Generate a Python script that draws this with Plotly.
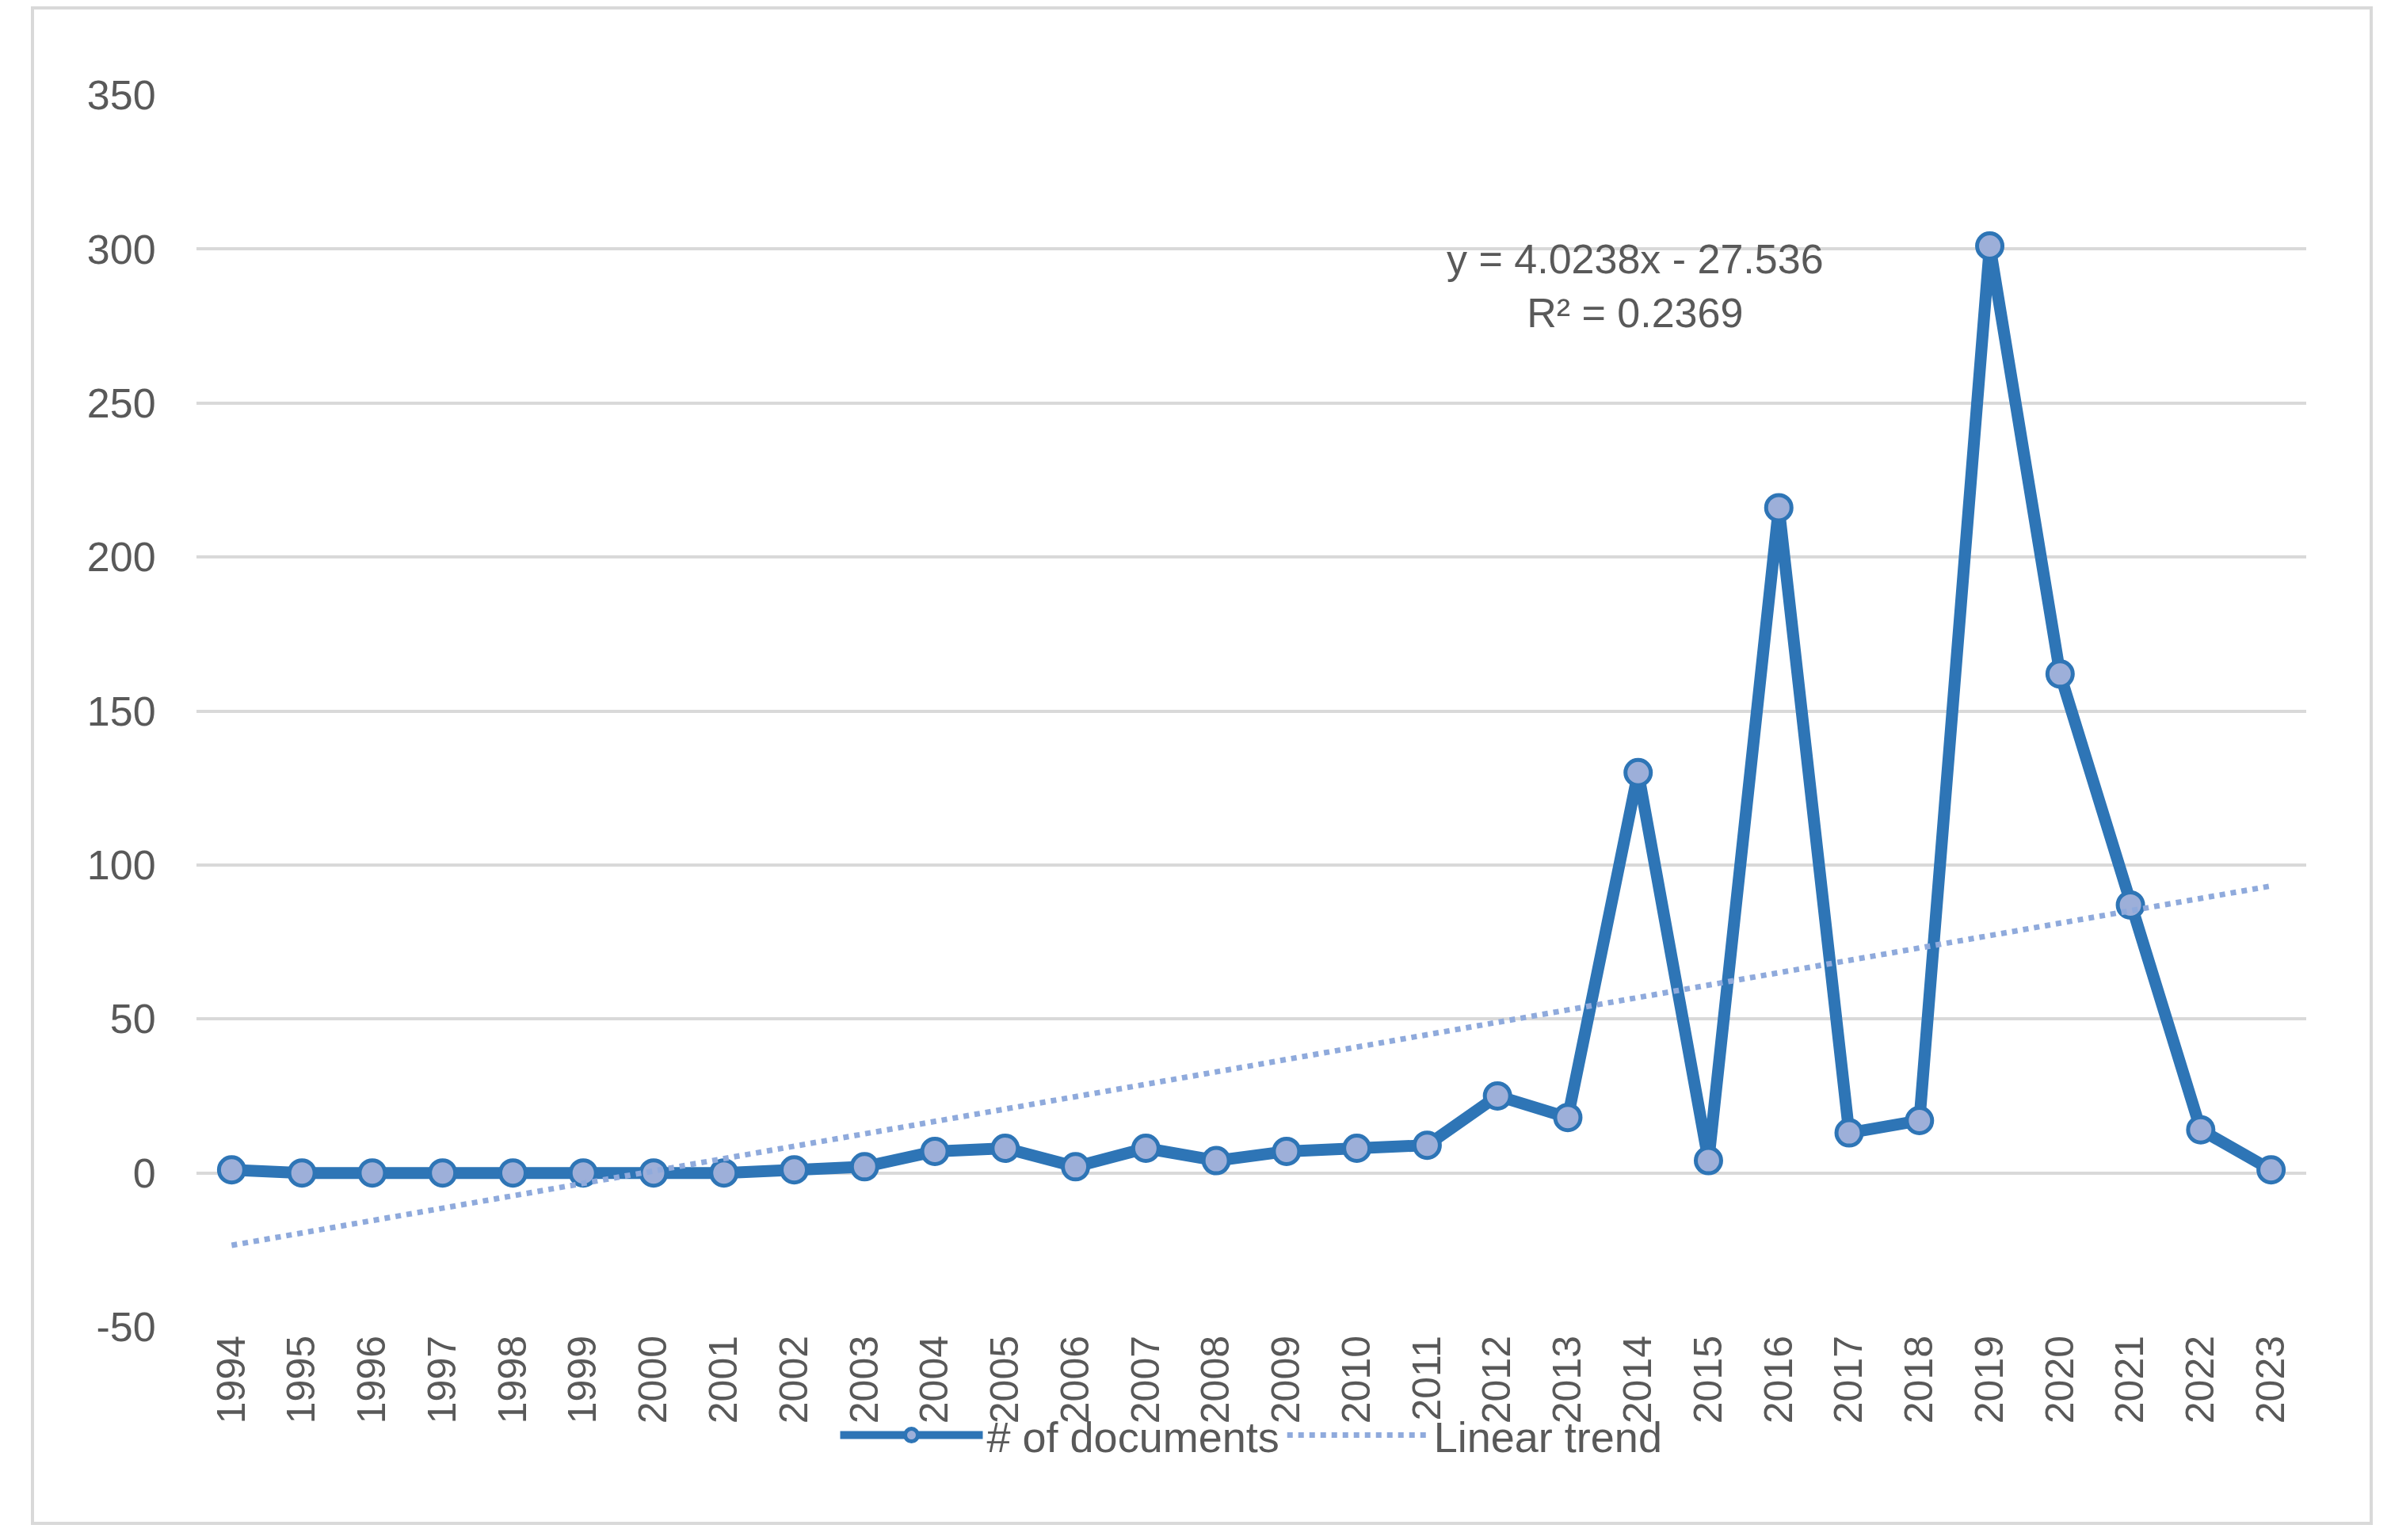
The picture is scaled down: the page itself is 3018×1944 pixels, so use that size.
import plotly.graph_objects as go

# data
years = [str(y) for y in range(1994, 2024)]
documents = [1, 0, 0, 0, 0, 0, 0, 0, 1, 2, 7, 8, 2, 8, 4, 7, 8, 9, 25, 18,
             130, 4, 216, 13, 17, 301, 162, 87, 14, 1]
TREND_SLOPE = 4.0238
TREND_INTERCEPT = -27.536
y_ticks = [-50, 0, 50, 100, 150, 200, 250, 300, 350]
y_tick_text = ["-50", "0", "50", "100", "150", "200", "250", "300", "350"]

trend = [TREND_SLOPE * (i + 1) + TREND_INTERCEPT for i in range(len(years))]

FONT = "Liberation Sans"
GREY = "#595959"
W, H = 3018, 1944
L, R, T, B = 240, 115, 112, 277

fig = go.Figure()
fig.add_trace(go.Scatter(
    x=years, y=documents, name="# of documents", mode="lines+markers",
    line=dict(color="#2E75B6", width=15),
    marker=dict(size=32, color="#9DAFD9", line=dict(color="#2E75B6", width=5)),
))
fig.add_trace(go.Scatter(
    x=years, y=trend, name="Linear trend", mode="lines",
    line=dict(color="#8FAADC", width=7, dash="dot"),
))

fig.add_annotation(
    x=0.682, y=0.845, xref="paper", yref="paper", showarrow=False,
    xanchor="center", yanchor="middle",
    text="y = 4.0238x - 27.536<br>R² = 0.2369",
    font=dict(family=FONT, size=52, color=GREY),
)

fig.update_layout(
    width=W, height=H,
    paper_bgcolor="white", plot_bgcolor="white",
    margin=dict(l=L, r=R, t=T, b=B, autoexpand=False),
    font=dict(family=FONT, size=52, color=GREY),
    showlegend=True,
    legend=dict(orientation="h", x=0.5, xanchor="center",
                yref="container", y=1 - 1804 / H, yanchor="middle",
                font=dict(size=54, color=GREY), itemwidth=180,
                bgcolor="rgba(0,0,0,0)"),
)
fig.add_shape(type="rect", xref="paper", yref="paper",
              x0=-(L - 33) / (W - L - R), x1=1 + (2985 - (W - R)) / (W - L - R),
              y0=-(1915 - (H - B)) / (H - T - B), y1=1 + (T - 2) / (H - T - B),
              line=dict(color="#D9D9D9", width=4))

fig.update_xaxes(type="category", tickangle=-90, showgrid=False, showline=False,
                 ticks="", tickfont=dict(size=50, color=GREY), range=[-0.5, 29.5])
fig.update_yaxes(range=[-50, 350], tickvals=y_ticks, ticktext=y_tick_text,
                 showgrid=True, gridcolor="#D9D9D9",
                 gridwidth=4, zeroline=True, zerolinecolor="#D9D9D9", zerolinewidth=4,
                 tickfont=dict(size=52, color=GREY), ticks="outside", ticklen=40,
                 tickcolor="rgba(0,0,0,0)")

fig.write_html("out.html")
